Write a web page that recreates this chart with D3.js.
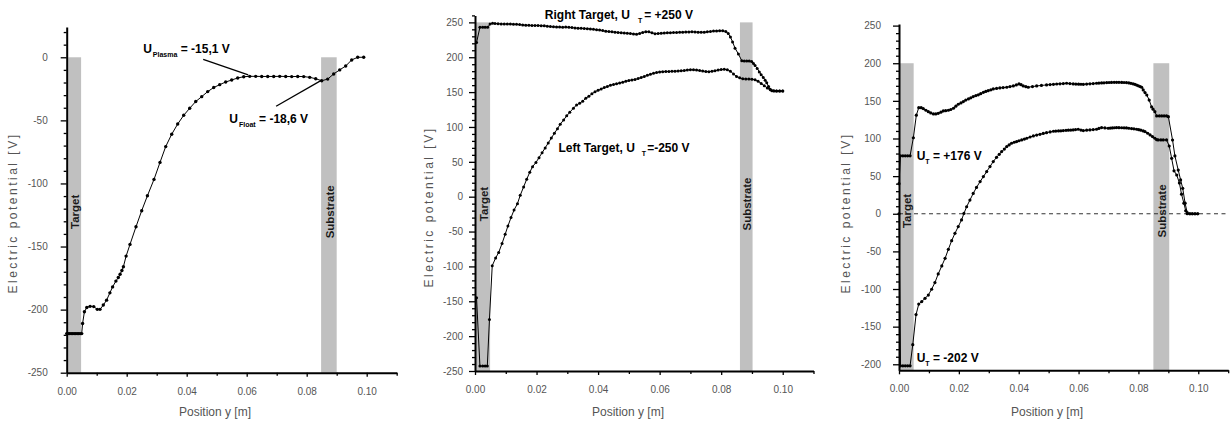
<!DOCTYPE html>
<html><head><meta charset="utf-8">
<script src="https://cdn.jsdelivr.net/npm/d3@7"></script>
<style>
body{margin:0;background:#fff}
svg{display:block}
text{font-family:"Liberation Sans",Arial,Helvetica,sans-serif}
</style>
</head><body>
<svg id="chart" width="1231" height="421"></svg>
<script>
// ---------------- DATA ----------------
const xTickValues = [0, 0.02, 0.04, 0.06, 0.08, 0.10];
const xMinorTickValues = [0.01, 0.03, 0.05, 0.07, 0.09, 0.11];
const p1YTicks = [-250, -200, -150, -100, -50, 0];
const p2YTicks = [-250, -200, -150, -100, -50, 0, 50, 100, 150, 200, 250];
const p3YTicks = [-200, -150, -100, -50, 0, 50, 100, 150, 200, 250];

// bands: [xStart, xEnd, topValue]
const p1TargetBand = [0.0005, 0.0048, 0];
const p1SubstrateBand = [0.0848, 0.0900, 0];
const p2TargetBand = [0.0003, 0.0049, 250];
const p2SubstrateBand = [0.0861, 0.0902, 250];
const p3TargetBand = [0.0003, 0.0049, 200];
const p3SubstrateBand = [0.0850, 0.0903, 200];

// Panel 1: floating substrate
const p1Potential = [
 [0,-219],[0.0005,-219],[0.001,-219],[0.0015,-219],[0.002,-219],[0.0025,-219],[0.003,-219],[0.0035,-219],[0.004,-219],[0.0045,-219],[0.005,-219],
 [0.0053,-211],[0.0059,-201.7],[0.0067,-198.3],[0.0078,-197.4],[0.009,-197.6],[0.0102,-199.8],[0.0111,-199.8],[0.0122,-196.4],[0.0133,-192.5],
 [0.0144,-186.7],[0.0153,-182],[0.0164,-177.4],[0.0172,-174.5],[0.0178,-172],[0.0184,-169],[0.0189,-166],[0.0198,-157.6],[0.0211,-148.3],
 [0.0231,-134.3],[0.025,-121.6],[0.0269,-109.8],[0.0291,-96.8],[0.0311,-83.3],[0.033,-70.8],[0.035,-61],[0.037,-52.9],[0.039,-46],
 [0.041,-40.4],[0.043,-35.1],[0.045,-31.2],[0.047,-27.2],[0.049,-24],[0.051,-21.7],[0.053,-19.6],[0.055,-18],[0.057,-16.4],[0.059,-15.4],
 [0.061,-15.1],[0.063,-15.1],[0.065,-15.2],[0.067,-15.2],[0.069,-15.2],[0.071,-15.1],[0.073,-15.2],[0.075,-15.3],[0.077,-15.2],[0.079,-15.3],
 [0.081,-15.9],[0.083,-17],[0.085,-18.6],[0.087,-17.3],[0.089,-13.2],[0.091,-10],[0.093,-6.9],[0.095,-2.1],[0.097,0],[0.099,0]
];

// Panel 2: right target +250 V
const p2RightTarget = [
 [0.0005,221],[0.0016,243],[0.0025,243],[0.0033,243],[0.0041,243],[0.0049,247.5],[0.0057,248.6],[0.0065,248.4],[0.0075,248],[0.0085,247.8],
 [0.0095,247.6],[0.0105,247.6],[0.0115,247.6],[0.0125,247.4],[0.0135,247.2],[0.0145,246.8],[0.0155,246.4],[0.0165,246],[0.0175,245.8],
 [0.0185,245.6],[0.0195,245.6],[0.0205,245.5],[0.0215,245.3],[0.0225,245],[0.0235,244.5],[0.0245,244],[0.0255,243.6],[0.0265,243.4],
 [0.0275,243.2],[0.0285,243],[0.0295,243.2],[0.0305,243],[0.0315,242.5],[0.0325,242],[0.0335,241.6],[0.0345,241.4],[0.0355,241.2],
 [0.0365,241],[0.0375,240.5],[0.0385,240],[0.0395,239.5],[0.0405,239],[0.0415,238.2],[0.0425,237.4],[0.0435,236.8],[0.0445,236.4],
 [0.0455,236],[0.0465,235.5],[0.0475,235],[0.0485,234.6],[0.0495,234.3],[0.0505,234],[0.0515,233.5],[0.0525,233],[0.0535,234],
 [0.0545,235.5],[0.0555,236.5],[0.0565,236.5],[0.0575,235],[0.0585,233.8],[0.0595,234],[0.0605,234.4],[0.0615,234.8],[0.0625,235],
 [0.0635,235.2],[0.0645,235.4],[0.0655,235.6],[0.0665,235.8],[0.0675,236],[0.0685,236.2],[0.0695,236.3],[0.0705,236.4],[0.0715,236.3],
 [0.0725,236],[0.0735,235.8],[0.0745,236],[0.0755,236.5],[0.0765,237],[0.0775,237.5],[0.0785,237.8],[0.0795,238],[0.0805,238],
 [0.0815,237],[0.0823,234],[0.083,229],[0.0837,222],[0.0845,213],[0.0856,204.6],[0.0867,195],[0.0875,194.5],[0.0883,194.5],
 [0.0891,194.5],[0.0899,194],[0.0905,191],[0.091,188],[0.0917,184],[0.0924,179],[0.093,175],[0.0937,171],[0.0943,167],[0.0948,163.5],
 [0.0954,158],[0.0959,154],[0.0965,152],[0.0972,151.5],[0.098,151.5],[0.099,151.5],[0.1,151.5]
];

// Panel 2: left target -250 V
const p2LeftTarget = [
 [0.0005,-145],[0.0016,-243],[0.0025,-243],[0.0033,-243],[0.004,-243],[0.0047,-176],[0.0056,-99],[0.0067,-88],[0.0077,-80],[0.0088,-67],
 [0.0098,-54],[0.0107,-42],[0.0117,-30],[0.0127,-19],[0.0138,-10],[0.0147,2],[0.0158,14],[0.0168,25],[0.0178,35],[0.0187,43],[0.0198,49],
 [0.0208,56],[0.0218,63],[0.0228,70],[0.0238,77],[0.0248,84],[0.0258,91],[0.0268,97.5],[0.0277,104],[0.0288,110],[0.0298,116],[0.0308,121],
 [0.032,127],[0.033,131.5],[0.034,134],[0.035,137],[0.036,141],[0.037,144],[0.038,147.5],[0.039,150.5],[0.04,152.5],[0.041,154.5],
 [0.042,156.5],[0.043,158],[0.044,160],[0.045,161],[0.046,162],[0.047,163],[0.048,164],[0.049,165.5],[0.05,166.5],[0.051,167.5],
 [0.052,168],[0.053,169.5],[0.054,171],[0.055,172.5],[0.056,174],[0.057,175.5],[0.058,177],[0.059,178],[0.06,179],[0.061,179.3],
 [0.062,179.5],[0.063,179.6],[0.064,179.8],[0.065,180],[0.066,180.3],[0.067,180.6],[0.068,181],[0.069,181.8],[0.07,182.2],[0.071,182],
 [0.072,181.6],[0.073,181],[0.074,180.2],[0.075,179.5],[0.076,179.3],[0.077,179.8],[0.078,180.7],[0.079,181.6],[0.08,182.4],[0.081,182.6],
 [0.082,182.2],[0.083,180],[0.084,176],[0.085,172.5],[0.086,170.5],[0.087,169],[0.088,168.7],[0.089,168.7],[0.09,168.5],[0.091,167.8],
 [0.092,165.5],[0.093,162.5],[0.094,159],[0.095,156],[0.096,153.5],[0.097,152],[0.098,151.5],[0.099,151.5],[0.1,151.5]
];

// Panel 3: UT = +176 V
const p3Upper = [
 [0,40],[0.0005,77],[0.0013,77],[0.0021,77],[0.0029,77],[0.0037,77],[0.0048,101],[0.0058,131],[0.0066,141],[0.0074,141],[0.0081,139.7],
 [0.009,137.5],[0.0098,135.7],[0.0106,134],[0.0115,132.6],[0.0123,132.6],[0.0131,133.5],[0.014,135],[0.0148,136.6],[0.0156,137],
 [0.0165,137.5],[0.0173,138.5],[0.0182,140.2],[0.019,143],[0.0198,145.5],[0.0207,147.3],[0.0215,149],[0.0223,151],[0.0232,152.6],
 [0.024,154],[0.0248,155.7],[0.0257,157],[0.0265,158],[0.0273,159.5],[0.0282,161.4],[0.029,162.5],[0.0298,163.6],[0.0307,164.7],
 [0.0315,165.8],[0.0326,166.5],[0.0337,167.2],[0.0348,167.6],[0.036,168.1],[0.0371,169],[0.0382,169.8],[0.0392,171.2],[0.0401,172.5],
 [0.0408,171.5],[0.0415,169.8],[0.0424,168.8],[0.0432,168.1],[0.0446,169],[0.046,169.8],[0.0476,170.5],[0.0493,171.2],[0.0505,171.6],
 [0.0516,172],[0.0527,172.4],[0.0538,172.7],[0.0549,173],[0.056,173.4],[0.0571,173],[0.0582,172.5],[0.0591,172.3],[0.06,172.2],[0.0608,172.1],
 [0.0616,172],[0.0627,172.3],[0.0638,172.7],[0.0649,173],[0.066,173.4],[0.0668,173.6],[0.0677,173.8],[0.0685,174],[0.0694,174.3],[0.0702,174.4],
 [0.071,174.5],[0.0719,174.6],[0.0727,174.7],[0.0735,174.6],[0.0744,174.5],[0.0752,174.4],[0.076,174.3],[0.0768,173.9],[0.0775,173.3],
 [0.0782,172.7],[0.0788,172],[0.0794,171],[0.08,170],[0.0806,169],[0.0811,168.1],[0.0816,164.5],[0.0822,161],[0.0828,157.8],[0.0836,151],
 [0.0844,142],[0.0849,139],[0.0855,135.7],[0.0861,130],[0.087,130],[0.0878,130],[0.0886,130],[0.0894,130],[0.09,129],[0.0914,98],
 [0.0922,76.8],[0.0933,58],[0.0941,45],[0.0948,33.8],[0.0956,14],[0.0963,1.5],[0.0972,0],[0.098,0],[0.0989,0],[0.0998,0]
];

// Panel 3: UT = -202 V
const p3Lower = [
 [0,0],[0.0005,-202],[0.0013,-202],[0.0021,-202],[0.0029,-202],[0.0037,-202],[0.0046,-174],[0.0057,-134],[0.0066,-120],[0.0076,-116.7],
 [0.0087,-112.3],[0.0098,-108],[0.0109,-100.3],[0.012,-91.5],[0.0131,-80],[0.0143,-69.3],[0.0154,-59.2],[0.0165,-47.2],[0.0176,-35.7],
 [0.0187,-26],[0.0198,-17],[0.0209,-8.2],[0.0217,0.4],[0.0226,9.3],[0.0237,18.2],[0.0248,27],[0.0259,35],[0.0271,42.7],[0.0282,49.4],
 [0.0293,56],[0.0304,62.7],[0.0315,69.4],[0.0326,75],[0.0335,79],[0.0343,82.6],[0.0352,86],[0.036,89.2],[0.0368,91.5],[0.0376,93.7],
 [0.0385,95],[0.0393,95.9],[0.0401,97],[0.041,98.1],[0.0419,99.2],[0.0427,100.3],[0.0438,102],[0.0449,103.4],[0.046,104.5],[0.0471,105.6],
 [0.0482,106.7],[0.0493,107.8],[0.0505,108.7],[0.0516,109.6],[0.0524,109.8],[0.0533,110],[0.0541,110.2],[0.0549,110.5],[0.0558,110.8],
 [0.0566,111],[0.0574,111.2],[0.0582,111.4],[0.059,111.8],[0.0599,112.3],[0.0608,111.2],[0.0616,110.5],[0.0627,111],[0.0638,111.4],
 [0.0649,111.8],[0.066,112.3],[0.0668,113.4],[0.0677,114.5],[0.0688,114],[0.0699,113.6],[0.0706,113.8],[0.0713,114],[0.072,114.3],
 [0.0727,114.5],[0.0735,114.4],[0.0744,114.3],[0.0752,114.2],[0.076,114],[0.0768,113.6],[0.0777,113.2],[0.0785,112.8],[0.0794,112.3],
 [0.0801,111.7],[0.0808,111],[0.0816,110],[0.0822,109.2],[0.0831,107],[0.0839,104.7],[0.0847,102.5],[0.0855,100.3],[0.0861,98.5],
 [0.0866,98.1],[0.0875,98.1],[0.0883,98.1],[0.0894,98.1],[0.0903,90],[0.0911,73.7],[0.0919,57],[0.0928,51.5],[0.0937,41],[0.0944,26],
 [0.0952,14],[0.0958,4],[0.0963,0],[0.0972,0],[0.098,0],[0.0989,0],[0.0998,0]
];

// ---------------- DRAWING ----------------
const svg = d3.select("#chart");
svg.append("rect").attr("width", 1231).attr("height", 421).attr("fill", "#fff");

function drawPanel(cfg) {
  const x = d3.scaleLinear().domain([0, 0.11]).range(cfg.xRange);
  const y = d3.scaleLinear().domain(cfg.yDomain).range(cfg.yRange);
  const g = svg.append("g");
  const yBottom = y(cfg.yDomain[0]);

  // grey bands
  cfg.bands.forEach(b => {
    const band = b.band;
    g.append("rect")
      .attr("x", x(band[0])).attr("width", x(band[1]) - x(band[0]))
      .attr("y", y(band[2])).attr("height", yBottom - y(band[2]))
      .attr("fill", "#c0c0c0");
    g.append("text")
      .attr("transform", `translate(${(x(band[0]) + x(band[1])) / 2 + 0.5},${y(cfg.bandLabelY)}) rotate(-90)`)
      .attr("text-anchor", "middle").attr("dy", "0.36em")
      .attr("font-size", 11.5).attr("font-weight", "bold").attr("fill", "#1a1a1a")
      .text(b.label);
  });

  if (cfg.zeroLine) {
    g.append("line")
      .attr("x1", x(0)).attr("x2", x(0.11)).attr("y1", y(0)).attr("y2", y(0))
      .attr("stroke", "#333").attr("stroke-width", 1).attr("stroke-dasharray", "4,3.5");
  }

  // curves
  const line = d3.line().x(d => x(d[0])).y(d => y(d[1]));
  cfg.series.forEach(s => {
    g.append("path").datum(s).attr("d", line)
      .attr("fill", "none").attr("stroke", "#000").attr("stroke-width", 1);
    g.append("g").selectAll("circle").data(s).enter().append("circle")
      .attr("cx", d => x(d[0])).attr("cy", d => y(d[1])).attr("r", cfg.dotR).attr("fill", "#000");
  });

  // axes
  const yMinor = d3.range(cfg.yDomain[0] < cfg.yTicks[0] ? cfg.yTicks[0] : cfg.yDomain[0], cfg.yDomain[1] + 0.01, 10)
    .filter(v => cfg.yTicks.indexOf(v) < 0);
  const ax = g.append("g").attr("transform", `translate(${x(0)},0)`);
  ax.call(d3.axisLeft(y).tickValues(yMinor).tickSize(3).tickSizeOuter(0).tickFormat(""));
  ax.select(".domain").remove();
  const ax2 = g.append("g").attr("transform", `translate(${x(0)},0)`);
  ax2.call(d3.axisLeft(y).tickValues(cfg.yTicks).tickSize(6).tickSizeOuter(0).tickPadding(cfg.yLabelGap).tickFormat(d => String(d)));
  [ax, ax2].forEach(a => {
    a.selectAll(".tick line").attr("stroke", "#000").attr("stroke-width", 1.3);
  });
  ax2.select(".domain").attr("stroke", "#000").attr("stroke-width", 2);
  ax2.selectAll(".tick text").attr("font-size", 10).attr("fill", "#555")
    .attr("font-family", '"Liberation Sans",Arial,sans-serif');

  const bx = g.append("g").attr("transform", `translate(0,${yBottom})`);
  bx.call(d3.axisBottom(x).tickValues(xMinorTickValues).tickSize(3).tickSizeOuter(0).tickFormat(""));
  bx.select(".domain").remove();
  const bx2 = g.append("g").attr("transform", `translate(0,${yBottom})`);
  bx2.call(d3.axisBottom(x).tickValues(xTickValues).tickSize(4).tickSizeOuter(0).tickPadding(11).tickFormat(d3.format(".2f")));
  [bx, bx2].forEach(a => a.selectAll(".tick line").attr("stroke", "#000").attr("stroke-width", 1.3));
  bx2.select(".domain").attr("stroke", "#000").attr("stroke-width", 2);
  bx2.selectAll(".tick text").attr("font-size", 10).attr("fill", "#555")
    .attr("font-family", '"Liberation Sans",Arial,sans-serif');

  // axis titles
  g.append("text")
    .attr("transform", `translate(${cfg.yTitlePos[0]},${cfg.yTitlePos[1]}) rotate(-90)`)
    .attr("text-anchor", "middle").attr("dy", "0.35em")
    .attr("font-size", 12).attr("fill", "#555").attr("letter-spacing", "2.5px")
    .text("Electric potential [V]");
  g.append("text")
    .attr("x", cfg.xTitlePos[0]).attr("y", cfg.xTitlePos[1])
    .attr("text-anchor", "middle").attr("font-size", 12).attr("fill", "#555")
    .text("Position y [m]");

  // annotations
  cfg.annotations.forEach(a => {
    const t = g.append("text").attr("x", x(a.at[0])).attr("y", y(a.at[1]))
      .attr("font-size", 12).attr("font-weight", "bold").attr("fill", "#000");
    t.append("tspan").text(a.main);
    t.append("tspan").attr("font-size", 7).attr("dx", a.subDx).attr("dy", 4).text(a.sub);
    t.append("tspan").attr("dx", a.restDx).attr("dy", -4).text(a.rest);
  });
  (cfg.leaders || []).forEach(l => {
    g.append("line").attr("x1", x(l[0][0])).attr("y1", y(l[0][1]))
      .attr("x2", x(l[1][0])).attr("y2", y(l[1][1]))
      .attr("stroke", "#000").attr("stroke-width", 1.3);
  });
}

drawPanel({
  xRange: [66.7, 396.7], yDomain: [-250, 24], yRange: [372.7, 27],
  yTicks: p1YTicks, yLabelGap: 13, dotR: 1.7,
  bands: [{band: p1TargetBand, label: "Target"}, {band: p1SubstrateBand, label: "Substrate"}],
  bandLabelY: -122.5,
  series: [p1Potential],
  yTitlePos: [13, 213], xTitlePos: [215, 416],
  annotations: [
    {at: [0.0255, 3.2], main: "U", sub: "Plasma", subDx: 1, rest: " = -15,1 V", restDx: 0},
    {at: [0.0542, -51.9], main: "U", sub: "Float", subDx: 1, rest: " = -18,6 V", restDx: 0}
  ],
  leaders: [[[0.0455, -1.6], [0.0605, -14]], [[0.0698, -38.8], [0.085, -18.1]]]
});

drawPanel({
  xRange: [475, 813.5], yDomain: [-250, 260], yRange: [371, 15.4],
  yTicks: p2YTicks, yLabelGap: 6, dotR: 1.5,
  bands: [{band: p2TargetBand, label: "Target"}, {band: p2SubstrateBand, label: "Substrate"}],
  bandLabelY: -10.5,
  series: [p2RightTarget, p2LeftTarget],
  yTitlePos: [429, 207], xTitlePos: [628, 416],
  annotations: [
    {at: [0.0227, 254.8], main: "Right Target, U", sub: "T", subDx: 8, rest: "= +250 V", restDx: 2},
    {at: [0.0271, 63.6], main: "Left Target, U", sub: "T", subDx: 7, rest: "=-250 V", restDx: 1}
  ]
});

drawPanel({
  xRange: [899, 1228.2], yDomain: [-208, 252], yRange: [370.3, 24.1],
  yTicks: p3YTicks, yLabelGap: 12, dotR: 1.6, zeroLine: true,
  bands: [{band: p3TargetBand, label: "Target"}, {band: p3SubstrateBand, label: "Substrate"}],
  bandLabelY: 3.7,
  series: [p3Upper, p3Lower],
  yTitlePos: [846, 213], xTitlePos: [1047, 416],
  annotations: [
    {at: [0.0059, 71.5], main: "U", sub: "T", subDx: 0, rest: " = +176 V", restDx: 0},
    {at: [0.0059, -196.5], main: "U", sub: "T", subDx: 0, rest: " = -202 V", restDx: 0}
  ]
});
</script>
</body></html>
